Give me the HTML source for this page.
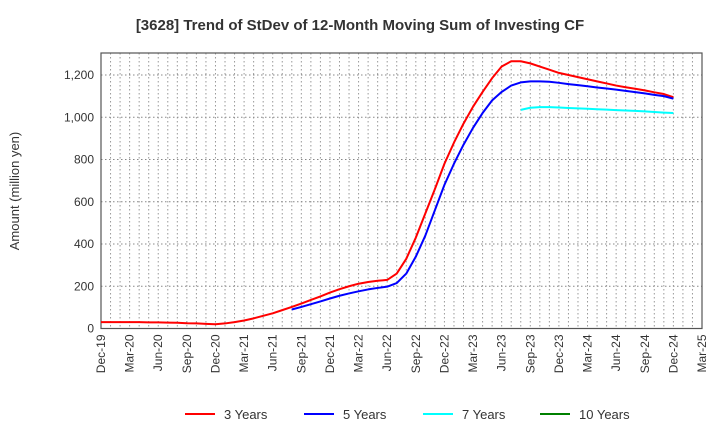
<!DOCTYPE html>
<html><head><meta charset="utf-8"><style>
body{margin:0;background:#fff;font-family:"Liberation Sans",sans-serif;}
svg text{font-family:"Liberation Sans",sans-serif;}
</style></head><body>
<svg id="chart" width="720" height="440" xmlns="http://www.w3.org/2000/svg">
<text x="360" y="30" text-anchor="middle" font-size="15" font-weight="bold" fill="#333">[3628]  Trend of StDev of 12-Month Moving Sum of Investing CF</text>
<text transform="translate(19,191) rotate(-90)" text-anchor="middle" font-size="13" fill="#333">Amount (million yen)</text>
<g id="grid"></g><g id="axes"></g><g id="series"></g><g id="legend"></g>
</svg>
<script>
const xTickLabels=["Dec-19","Mar-20","Jun-20","Sep-20","Dec-20","Mar-21","Jun-21","Sep-21","Dec-21","Mar-22","Jun-22","Sep-22","Dec-22","Mar-23","Jun-23","Sep-23","Dec-23","Mar-24","Jun-24","Sep-24","Dec-24","Mar-25"];
const yTicks=[0,200,400,600,800,1000,1200];
const y3=[30,30,30,30,30,29,29,28,27,25,24,22,20,24,30,38,48,60,72,87,102,118,135,152,170,186,200,212,220,226,230,260,330,430,545,660,780,880,970,1050,1120,1185,1240,1265,1265,1255,1240,1225,1210,1200,1190,1180,1170,1160,1150,1142,1135,1127,1118,1110,1095];
const start3=0;
const y5=[90,102,115,128,142,155,166,176,185,192,198,215,260,340,440,560,680,780,870,950,1020,1080,1120,1150,1165,1170,1170,1168,1163,1157,1152,1147,1141,1136,1131,1125,1119,1113,1106,1100,1088];
const start5=20;
const y7=[1035,1045,1048,1048,1046,1044,1042,1040,1038,1036,1034,1032,1030,1028,1025,1022,1020];
const start7=44;
const y10=[];
const start10=0;
const seriesNames=["3 Years","5 Years","7 Years","10 Years"];
const colors=["#ff0000","#0000ff","#00ffff","#008000"];
const NS="http://www.w3.org/2000/svg";
const L=101,R=702,T=53,B=328.5,YMAX=1300,NM=63;
const xs=m=>L+(R-L)*m/NM;
const ys=v=>B-(v/1200)*(B-75);
function mk(tag,attrs,parent){const e=document.createElementNS(NS,tag);for(const k in attrs)e.setAttribute(k,attrs[k]);parent.appendChild(e);return e;}
const grid=document.getElementById('grid'),axes=document.getElementById('axes'),ser=document.getElementById('series'),leg=document.getElementById('legend');
for(let m=1;m<NM;m++){const g=mk('line',{x1:xs(m),x2:xs(m),y1:T,y2:B,stroke:'#999','stroke-dasharray':'1.5,2.5','stroke-width':1},grid);

}
yTicks.forEach(v=>{if(v>0){const g=mk('line',{x1:L,x2:R,y1:ys(v),y2:ys(v),stroke:'#888','stroke-dasharray':'1.5,2.5','stroke-width':1},grid);

}
const t=mk('text',{x:L-7,y:ys(v)+4,'text-anchor':'end','font-size':12,fill:'#333'},axes);t.textContent=v.toLocaleString('en-US');

});
const box=mk('rect',{x:L,y:T,width:R-L,height:B-T,fill:'none',stroke:'#555','stroke-width':1.2},axes);


xTickLabels.forEach((s,i)=>{const x=xs(i*3);const t=mk('text',{transform:`translate(${x+4},${B+6}) rotate(-90)`,'text-anchor':'end','font-size':12,fill:'#333'},axes);t.textContent=s;

});
[[y3,start3],[y5,start5],[y7,start7],[y10,start10]].forEach(([arr,st],i)=>{if(!arr.length)return;
const p=mk('polyline',{points:arr.map((v,j)=>xs(st+j)+','+ys(v)).join(' '),fill:'none',stroke:colors[i],'stroke-width':2,'stroke-linejoin':'round'},ser);

});
const lx=[185,304,423,540];
seriesNames.forEach((n,i)=>{const g=mk('g',{},leg);


mk('line',{x1:lx[i],x2:lx[i]+30,y1:414,y2:414,stroke:colors[i],'stroke-width':2},g);
const t=mk('text',{x:lx[i]+39,y:419,'font-size':13,fill:'#333'},g);t.textContent=n;});
</script>
</body></html>
